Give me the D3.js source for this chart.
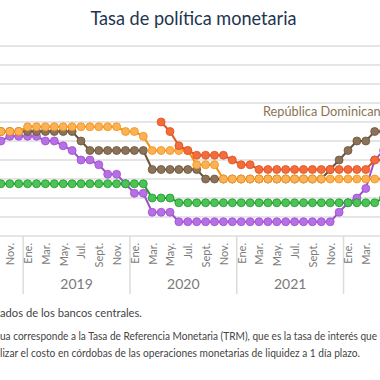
<!DOCTYPE html>
<html><head><meta charset="utf-8">
<script src="https://cdn.jsdelivr.net/npm/d3@7"></script>
<style>
body{margin:0;background:#fff;}
svg{display:block;font-family:Lato,"Open Sans",sans-serif;}
</style></head><body>
<div id="chart"></div>
<script>
(function() {
"use strict"

// month offsets from Ene. 2019 (Sep 2018 .. May 2022)
var months = d3.range(-4, 41);

var honduras = [5.5,5.5,5.5,5.5,
    5.75,5.75,5.75,5.75,5.75,5.75,5.75,5.75,5.75,5.75,5.75,
    5.5,5.5,5.25,
    4.5,4.5,4.5,4.5,4.5,
    3.75,3.75,3.75,
    3,3,3,3,3,3,3,3,3,3,3,3,3,3,3,3,3,3,3];
var dominicana = [5.5,5.5,5.5,5.5,5.5,5.5,5.5,5.5,5.5,5.5,
    5.0,
    4.5,4.5,4.5,4.5,4.5,4.5,4.5,
    3.5,3.5,3.5,3.5,3.5,3.5,
    3,3,3,3,3,3,3,3,3,3,3,3,3,3,
    3.5,4.0,4.5,5.0,5.0,5.5,5.5];
var guatemala = [2.75,2.75,2.75,2.75,2.75,2.75,2.75,2.75,2.75,2.75,2.75,2.75,2.75,2.75,2.75,2.75,2.75,2.75,
    2.0,2.0,2.0,
    1.75,1.75,1.75,1.75,1.75,1.75,1.75,1.75,1.75,1.75,1.75,1.75,1.75,1.75,1.75,1.75,1.75,1.75,1.75,1.75,1.75,1.75,1.75,
    2.0];
var costaRica = [5.0,5.0,5.25,5.25,5.25,5.25,5.0,5.0,4.75,4.5,4.0,4.0,3.75,3.25,3.25,2.75,2.25,2.25,
    1.25,1.25,1.25,
    0.75,0.75,0.75,0.75,0.75,0.75,0.75,0.75,0.75,0.75,0.75,0.75,0.75,0.75,0.75,0.75,0.75,0.75,
    1.25,1.75,2.0,2.5,4.0,4.5];
var nicaragua = [null,null,null,null,null,null,null,null,null,null,null,null,null,null,null,null,null,null,null,
    6.0,5.5,4.75,4.5,4.25,4.25,4.25,4.25,4.0,3.75,3.75,
    3.5,3.5,3.5,3.5,3.5,3.5,3.5,3.5,3.5,3.5,3.5,3.5,3.5,
    4.0,4.0];

var yTicks = [0,1,2,3,4,5,6,7,8,9,10];
var tickMonths = [-2,0,2,4,6,8,10,12,14,16,18,20,22,24,26,28,30,32,34,36,38];
var tickLabels = ["Nov.","Ene.","Mar.","May.","Jul.","Sept.","Nov.",
    "Ene.","Mar.","May.","Jul.","Sept.","Nov.",
    "Ene.","Mar.","May.","Jul.","Sept.","Nov.",
    "Ene.","Mar."];
var years = ["2019","2020","2021"];
var yearStarts = [0,12,24,36];

var series = [
    {name:"Costa Rica", values:costaRica, line:"#a04fd0", fill:"#b66fe4"},
    {name:"República Dominicana", values:dominicana, line:"#6b543b", fill:"#8b7259"},
    {name:"Guatemala", values:guatemala, line:"#1f9b2a", fill:"#4cc356"},
    {name:"Honduras", values:honduras, line:"#f5900f", fill:"#fbb257"},
    {name:"Nicaragua", values:nicaragua, line:"#e0531f", fill:"#f26c3c"}
];

var W = 380, H = 380;
var svg = d3.select("#chart").append("svg")
    .attr("width",W).attr("height",H);

var x = d3.scaleLinear().domain([0,36]).range([27.6,348]);
var y = d3.scaleLinear().domain([0,10]).range([236,46]);

//title
svg.append("text")
    .attr("x",193.5).attr("y",25)
    .attr("text-anchor","middle")
    .attr("textLength",206).attr("lengthAdjust","spacingAndGlyphs")
    .style("font-size","19px").style("fill","#22344f")
    .text("Tasa de política monetaria");

//gridlines
svg.append("g").selectAll("line").data(yTicks).join("line")
    .attr("x1",0).attr("x2",W)
    .attr("y1",function(d){return y(d);}).attr("y2",function(d){return y(d);})
    .style("stroke","#dcdcdc").style("stroke-width",1.5);

//year separators
svg.append("g").selectAll("line").data(yearStarts).join("line")
    .attr("x1",function(d){return x(d-0.5);}).attr("x2",function(d){return x(d-0.5);})
    .attr("y1",y(0)).attr("y2",294)
    .style("stroke","#dcdcdc").style("stroke-width",1.5);

//month axis
var xAxis = svg.append("g")
    .attr("transform","translate(0,243)")
    .call(d3.axisBottom(x).tickValues(tickMonths)
        .tickFormat(function(d,i){return tickLabels[i];}).tickSize(0));
xAxis.select(".domain").remove();
xAxis.selectAll("text")
    .attr("transform","rotate(-90)")
    .attr("x",0).attr("y",0).attr("dy","0.35em")
    .attr("text-anchor","end")
    .style("font-family","Lato, sans-serif")
    .style("font-size","11px").style("fill","#7a7a7a");

svg.append("g").selectAll("text").data(years).join("text")
    .attr("x",function(d,i){return x(yearStarts[i]+5.5);})
    .attr("y",289)
    .attr("text-anchor","middle")
    .style("font-size","14px").style("fill","#7a7a7a")
    .text(function(d){return d;});

//series
var line = d3.line()
    .defined(function(d){return d.v !== null;})
    .x(function(d){return x(d.m);})
    .y(function(d){return y(d.v);});

series.forEach(function(s) {
    var pts = months.map(function(m,i){return {m:m, v:s.values[i]};});
    var g = svg.append("g");
    g.append("path").datum(pts)
        .attr("d",line)
        .style("fill","none").style("stroke",s.line).style("stroke-width",2);
    g.selectAll("circle").data(pts.filter(function(d){return d.v !== null;})).join("circle")
        .attr("cx",function(d){return x(d.m);})
        .attr("cy",function(d){return y(d.v);})
        .attr("r",4)
        .style("fill",s.fill).style("stroke",s.line).style("stroke-width",0.8);
});

svg.append("text")
    .attr("x",263).attr("y",116)
    .attr("textLength",124).attr("lengthAdjust","spacingAndGlyphs")
    .style("font-size","14px").style("fill","#8a7356")
    .text("República Dominicana");

//notes
var notes = [
    {t:"ados de los bancos centrales.", y:317, w:142},
    {t:"ua corresponde a la Tasa de Referencia Monetaria (TRM), que es la tasa de interés que", y:340, w:377},
    {t:"lizar el costo en córdobas de las operaciones monetarias de liquidez a 1 día plazo.", y:357, w:360}
];
svg.append("g").selectAll("text").data(notes).join("text")
    .attr("x",0).attr("y",function(d){return d.y;})
    .attr("textLength",function(d){return d.w;}).attr("lengthAdjust","spacingAndGlyphs")
    .style("font-size","11px").style("fill","#444")
    .text(function(d){return d.t;});

})();
</script>
</body></html>
